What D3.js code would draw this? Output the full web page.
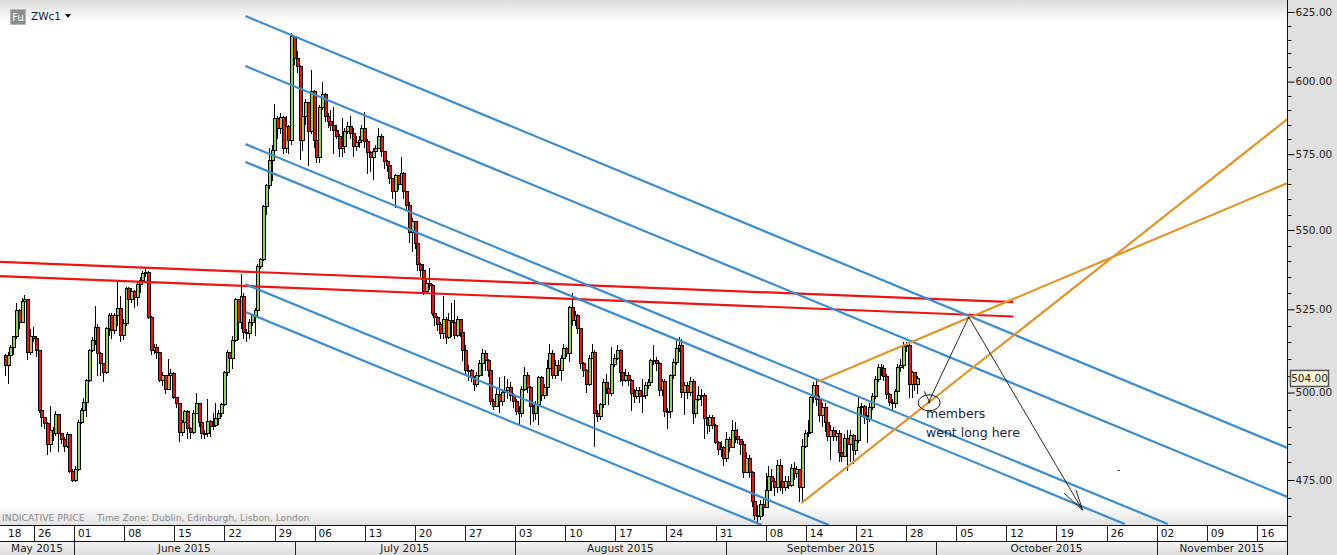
<!DOCTYPE html>
<html><head><meta charset="utf-8">
<script src="https://cdn.jsdelivr.net/npm/d3@7"></script>
<style>html,body{margin:0;padding:0;background:#fff;overflow:hidden}svg{display:block}text{font-family:"DejaVu Sans",sans-serif}</style>
</head><body><svg id="c" width="1337" height="555"></svg>
<script>
const firstOpen = 511;
const closes = [
508,511,513.5,516.6,524.7,521,527.4,528,511.8,516.6,516,512.5,494.8,492.8,491,484.9,489.1,488,493.5,488,486.5,484.5,487.8,477.5,475,478,491.4,494.7,497,503.5,512.4,515.4,519.4,511.5,508.5,506,519,523.2,518.5,523,525.3,517,520.7,531.3,527.9,530.6,528.6,532.7,534.1,536.3,536.5,522.6,512.4,513.3,511.8,503.5,505,501,505,505.5,498.5,496.8,488.5,491.4,494.5,489.7,488.5,494,496.8,491.4,488,488,491.5,490,490.5,492.4,494,496.5,505.8,511.8,510,515.4,527.9,521,529,518,517.5,521,523,524.7,538.3,540.5,557.7,
564.7,572.8,576.3,587,583.8,587.6,577,584.5,579.7,616,608.2,605.2,579.7,588,592.7,582.6,596.5,579.7,574,590.8,595.4,588,586,584.8,583,581,577,577.5,582.7,584.5,582,577.7,579,579.7,583.8,579.3,575.5,574,575.8,577,581,575.8,572.6,571.3,566.8,562.7,567.7,565,568.5,562.7,558,549.2,552.8,545.7,539,537,
530.4,533,532.5,523.7,522.5,520.5,517.5,522,516.5,521.5,521,517,522,518,512.4,506.5,506.5,504.5,502.5,505,508.5,511.5,509.5,506.5,497.5,496,499.5,497.5,500,500.5,501.5,499,497.5,494.5,494,501,505,501.5,496,494,496.5,504.5,499,501.5,507,511.5,505,508,506.5,510,513,511.5,525.5,521.5,523,519,508.5,506.5,502.5,510,512,494,493,496.5,503,501.2,499.7,508.3,510,512.4,506,503.5,505,503.5,499.8,498.7,500.5,498.7,499,502,503,509.5,509.5,508.5,500.5,503.3,494.5,494.5,505,509,513,514,500,502,500,503.2,494,498,499,499,492.3,490.3,492.8,490.3,485.6,483.5,484,480.9,486.5,484,489,487.3,486.3,
485,477.2,481,477,469,465.3,465,468.3,467.3,472,476,474.7,472.8,479,474.6,472.8,474.7,473.6,478.3,476.9,477.8,473,484.4,488,488.4,498.5,502,498,493.4,495.7,491.4,487.2,489,487.2,488,482.8,481.6,486.6,485,487.5,483.4,486,495.7,496,492.8,492.2,495.7,498.8,503.8,507.3,507,504.7,499.5,497.2,496.8,500.3,507.5,508,513.6,514,502.4,505.8,502.5,504];
const highs = [
511.5,512,514,517,527,525,528.5,529.5,528,519,519.5,517,512.5,495,493,491.5,496,490,494.5,493.5,488,487,488.5,488,478,479,492,495.5,498.5,504,513,516.5,526,520.5,512,508.5,519.5,524,524,524,533.5,529,522,532,532,531.5,531,533.5,535,537,538,537,523,514.5,514.5,512,506,505,510,507,506,498.5,497,492,495,495,490,495,500,497,492,489,498,492,494,497,495,497,506.5,512.5,512,517,528.5,528,536,530,519,522,523.5,525.5,539,541,558,
565,577,578,592.3,588,589,588,588,585,617.5,616,611,606,589,594,593,604,597,583,592,600,596,589,590,591,585,582,587.5,584,586,588,584,581,581,585,589.5,580,576,577,578,584,582,576,573,570,567,568.5,568,574,569,559.5,559,554,552,546,539.5,
539,534,538,533,524,523,521,529,522.5,524,527,528,523,522,519,514,508,507,505,506,509.5,513,512.5,510,507,498,501,504.5,501,505,504,503,500,498,496,502,507.5,506,502,496.5,497.5,505,505,502.5,509.5,514.5,512.5,509.5,509.5,511,514.5,513.5,526,530,524.5,523.5,519,509,507,511,514.5,512.5,495,497,504,505.5,501,513.5,511.5,514,513,507,507,506,504,501,501.5,501.5,504,503,504,510,514,510.5,509,504,504,495.5,505.5,510,516,516.5,516,503,503,504.5,504,499.5,502,501,500,493,493.5,493.5,491,486,486,484.5,488.5,487,492,491.5,489.5,
486.5,486,483,482,477.5,470,468,469.5,470,477,479,478,475.5,480.5,481,475,476,476,479.5,480,479,478,486.5,489,492,499,503,504,499,497,497,492,490.5,490,489,489,483.5,488,489,489,488,487,499,497,496.5,493.5,497,500,505,508.5,508.5,508,505.5,500,498,501,508.5,510,515,515,515,506.5,506,505];
const lows = [
505,502.5,510.5,511,516,519,521,526,509.5,511,515,510.5,494,490,489.5,482,483,486,487.5,483,485,483,484,477,474.5,474.5,477.5,491,493,493,503,512,514,505,505,503,505.5,517,516,517.5,520,515,515.5,520,526,527,525.5,526,530,533,535,522,511,511.5,510,503,502,499.5,501,504,498,495.5,485.7,487.5,491,486.5,486.5,488,494,490,486.5,486.5,487,487,489,490,490.5,493,496,505,507,507,515,515.5,519,516,515,516,520,517,524,537.5,540,
555,563.5,566,575,580,582,575,575.5,575,578,606,603,573,576,585,571,582,577,572,572,590,586,584,583,575,580,574,574,575.5,582,580,574,576,577,579,577,568.5,569,566.5,574,577,574,570,569,565,560,557,563,565,560,556,545.7,542.8,544,537,535,
529.5,530,531,523,520,518.5,516,516,514.5,516,516.5,516,516.5,516.5,509.4,505,503.5,503,500.5,501.5,504.5,505,506.5,504.5,496.5,495,497,494,496,497.5,498,497.5,495.5,493.5,490.5,493,500.5,500,490.5,491.5,492,490.5,497.5,498,499,506,504,504,505,503.5,510,510.5,509,520,520,517.5,507,504.5,500,502,510,484.2,491.5,492,495.5,499.5,496.5,499,507.5,509.5,503,502,503,502,494.5,497,498,497,494,498,501,503,508,506.5,499,499,493,489.5,492.5,504,508,512,498.5,493.5,498,499,491,492.5,497.5,496,486.5,488,488.5,489.5,485,482,481.5,479,480,483,484,485.5,485,
482,475.5,477,475.5,467.5,464,463.5,464,465,468,471.5,472,470.5,471.5,472,471,472,472.5,473,475,475.5,469,468.5,484,487,488,497,496,491.5,490,488.5,486,480.5,486,486,480,480,481.5,477.5,480,479.5,482,485.5,493,491,485.5,491.5,495,498,503,505,503.5,498,496,495,495.5,500,506,507,512,498.5,498.5,500.5,499.5];
const dayTicks = [4,8,13,18,23,28,32,37,42,47,52,57,62,67,72,77,81,86,91,96,101,106,111,116,121,126];
const dayLabels = ["26","01","08","15","22","29","06","13","20","27","03","10","17","24","31","08","14","21","28","05","12","19","26","02","09","16"];
const firstLabel = "18";
const monthStarts = [8,30,52,73,94,116];
const monthNames = ["May 2015","June 2015","July 2015","August 2015","September 2015","October 2015","November 2015"];
const priceMajor = [625,600,575,550,525,500,475];
const priceMinor = [620,615,610,605,595,590,585,580,570,565,560,555,545,540,535,530,520,515,510,505,495,490,485,480,470,465];
const lastPrice = 504;
const blueLines = [[25.1,623.5,129.3,483.7],[25.1,605.5,129.3,470],[25.1,578.4,117.1,462.9],[25.1,572.4,112.8,462.9],[25.1,532.8,83.3,462.6],[25.1,524.2,76.6,462.6]];
const redLines = [[0.6,539.8,101.7,527.2],[0.6,535.3,101.7,522.8]];
const orangeLines = [[80.55,468.6,129.3,587.7],[82.1,503.1,129.3,565.7]];
const blackPath = [[93.2,496.9],[97.25,522.6],[108.6,466.7]];
const blackArrow = [[106.75,471.4],[108.6,466.7],[107.95,472.2]];
const blackTick = [[92.8,500.4],[93.4,496.9]];
const circleAt = [93.3,497];
const dotAt = [112.1,477.8];
const noteLines = ["members","went long here"];
const notePrices = [492.5,487.2];

const W=1337,H=555,plotR=1287,plotB=525,row2=541;
const svg=d3.select("#c");
const defs=svg.append("defs");
function grad(id,stops){const g=defs.append("linearGradient").attr("id",id).attr("x1",0).attr("x2",0).attr("y1",0).attr("y2",1);
 stops.forEach(s=>g.append("stop").attr("offset",s[0]).attr("stop-color",s[1]));}
grad("gt",[[0,"#dcdcdc"],[1,"#ffffff"]]);
grad("gb",[[0,"#ffffff"],[1,"#e2e2e2"]]);
grad("gm",[[0,"#f4f4f4"],[1,"#dedede"]]);
defs.append("clipPath").attr("id","pl").append("rect").attr("x",0).attr("y",0).attr("width",plotR).attr("height",plotB);

const x=d3.scaleLinear().domain([8,126]).range([74,1257]);
const y=d3.scaleLog().domain([625,475]).range([12,480]);
const barDay=i=>1.1+i*0.28;

svg.append("rect").attr("width",W).attr("height",H).attr("fill","#fff");
svg.append("rect").attr("x",0).attr("y",0).attr("width",plotR).attr("height",22).attr("fill","url(#gt)");
svg.append("rect").attr("x",0).attr("y",505).attr("width",plotR).attr("height",20).attr("fill","url(#gb)");
svg.append("rect").attr("x",plotR).attr("y",0).attr("width",W-plotR).attr("height",H).attr("fill","#e0e0e0");

// header
svg.append("rect").attr("x",10.5).attr("y",9.5).attr("width",15).attr("height",15).attr("fill","#8c8c8c").attr("stroke","#b5b5b5");
svg.append("text").attr("x",18).attr("y",21).attr("text-anchor","middle").attr("font-size",10).attr("fill","#fff").text("Fu");
svg.append("text").attr("x",31).attr("y",20).attr("font-size",10.5).attr("fill","#10203a").text("ZWc1");
svg.append("path").attr("d",d3.line()([[65,14],[71,14],[68,18]])+"Z").attr("fill","#111");

// candles
const plot=svg.append("g").attr("clip-path","url(#pl)");
const bars=closes.map((c,i)=>({i,o:i?closes[i-1]:firstOpen,c,h:highs[i],l:lows[i]}));
const cg=plot.append("g").selectAll("g").data(bars).join("g");
cg.append("line").attr("x1",d=>Math.round(x(barDay(d.i)))+.5).attr("x2",d=>Math.round(x(barDay(d.i)))+.5)
  .attr("y1",d=>y(d.h)).attr("y2",d=>y(d.l)).attr("stroke","#000").attr("stroke-width",1).attr("shape-rendering","crispEdges");
cg.append("rect").attr("x",d=>Math.round(x(barDay(d.i)))-.5).attr("width",3)
  .attr("y",d=>Math.min(y(d.o),y(d.c))).attr("height",d=>Math.max(1,Math.abs(y(d.o)-y(d.c))))
  .attr("fill",d=>d.c>=d.o?"#8fd45a":"#ee1010").attr("stroke","#000").attr("stroke-width",1).attr("shape-rendering","crispEdges");

// trend lines
function seg(a,col,w){plot.append("g").selectAll("line").data(a).join("line")
 .attr("x1",d=>x(d[0])).attr("y1",d=>y(d[1])).attr("x2",d=>x(d[2])).attr("y2",d=>y(d[3]))
 .attr("stroke",col).attr("stroke-width",w);}
seg(redLines,"#ee1414",2.2);
seg(blueLines,"#3a8ed0",2.2);
seg(orangeLines,"#e0962a",2.2);
const ln=d3.line().x(d=>x(d[0])).y(d=>y(d[1]));
[blackPath,blackArrow,blackTick].forEach(p=>plot.append("path").attr("d",ln(p)).attr("fill","none").attr("stroke","#111").attr("stroke-width",.9));
plot.append("ellipse").attr("cx",x(circleAt[0])).attr("cy",y(circleAt[1])).attr("rx",11).attr("ry",8).attr("fill","none").attr("stroke","#111").attr("stroke-width",1);
plot.append("rect").attr("x",x(dotAt[0])).attr("y",y(dotAt[1])).attr("width",2).attr("height",1).attr("fill","#111");
plot.selectAll("text.n").data(noteLines).join("text").attr("class","n").attr("x",926).attr("y",(d,i)=>y(notePrices[i]))
 .attr("font-size",12.5).attr("fill","#15263c").text(d=>d);

// footer note
svg.append("text").attr("x",2).attr("y",521).attr("font-size",9.3).attr("fill","#8b8b8b").text("INDICATIVE PRICE");
svg.append("text").attr("x",97).attr("y",521).attr("font-size",9.2).attr("fill","#8b8b8b").text("Time Zone: Dublin, Edinburgh, Lisbon, London");

// time axis
svg.append("rect").attr("x",0).attr("y",plotB).attr("width",plotR).attr("height",row2-plotB).attr("fill","#fff");
svg.append("rect").attr("x",0).attr("y",row2).attr("width",plotR).attr("height",H-row2).attr("fill","url(#gm)");
const tg=svg.append("g");
tg.append("text").attr("x",8).attr("y",537).attr("font-size",10.5).attr("fill","#111").text(firstLabel);
tg.selectAll("line").data(dayTicks).join("line").attr("x1",d=>Math.round(x(d))+.5).attr("x2",d=>Math.round(x(d))+.5).attr("y1",plotB).attr("y2",row2).attr("stroke","#222");
tg.selectAll("text.d").data(dayTicks).join("text").attr("class","d").attr("x",d=>x(d)+4).attr("y",537).attr("font-size",10.5).attr("fill","#111").text((d,i)=>dayLabels[i]);
const mx=[0,...monthStarts.map(d=>x(d)),plotR];
const mg=svg.append("g");
mg.selectAll("line").data(monthStarts).join("line").attr("x1",d=>Math.round(x(d))+.5).attr("x2",d=>Math.round(x(d))+.5).attr("y1",row2).attr("y2",H).attr("stroke","#222");
mg.selectAll("text").data(monthNames).join("text").attr("x",(d,i)=>(mx[i]+mx[i+1])/2).attr("y",552).attr("text-anchor","middle").attr("font-size",10.5).attr("fill","#222").text(d=>d);
[plotB,row2].forEach(v=>svg.append("line").attr("x1",0).attr("x2",plotR).attr("y1",v+.5).attr("y2",v+.5).attr("stroke","#111"));

// price axis
const ag=svg.append("g").attr("transform",`translate(${plotR+.5},0)`);
const ax=d3.axisRight(y).tickValues(priceMajor).tickSize(7).tickPadding(1).tickFormat(d3.format(".2f"));
ag.call(ax);
ag.select(".domain").attr("stroke","#111").attr("d",`M0,0V${H}`);
ag.selectAll("text").attr("font-size",10.5).attr("font-family","DejaVu Sans").attr("fill","#222");
ag.selectAll("line.mn").data(priceMinor).join("line").attr("class","mn").attr("x1",0).attr("x2",4).attr("y1",d=>Math.round(y(d))+.5).attr("y2",d=>Math.round(y(d))+.5).attr("stroke","#222");

// last price
const lp=svg.append("g").attr("transform",`translate(1290,${y(lastPrice)-9})`);
lp.append("rect").attr("x",0.5).attr("y",0.5).attr("width",38).attr("height",16).attr("fill","#fbf8dc").attr("stroke","#555").attr("stroke-width",1.5);
lp.append("text").attr("x",19.5).attr("y",12.5).attr("text-anchor","middle").attr("font-size",10.5).attr("fill","#222").text(d3.format(".2f")(lastPrice));
</script></body></html>
